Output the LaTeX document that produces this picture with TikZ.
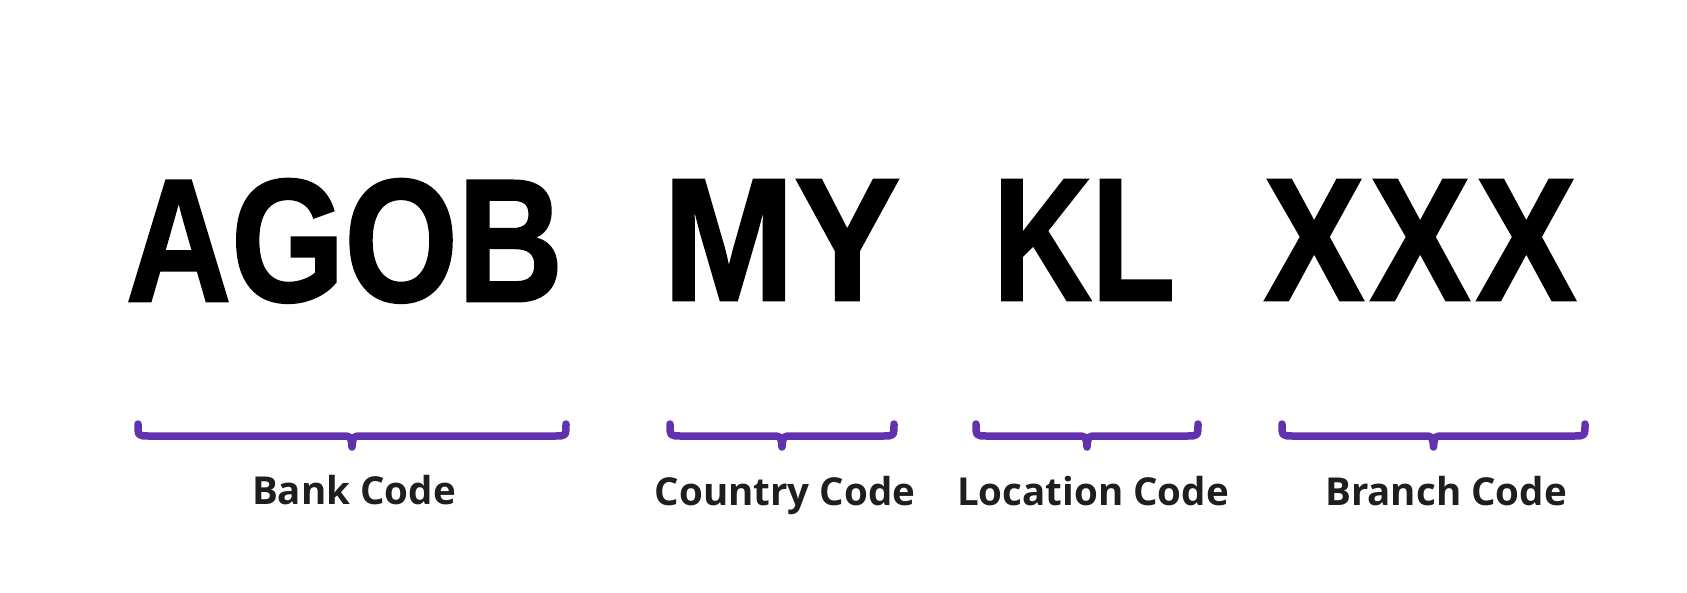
\documentclass[tikz,border=0pt]{standalone}
\usepackage{fontspec}
\usepackage{graphicx}
\setmainfont{Liberation Sans}
\newfontfamily\heavyfont[FakeBold=1.5]{Liberation Sans Bold}
\newfontfamily\labfont{Open Sans}
\definecolor{bracepurple}{HTML}{6232AE}
\definecolor{labelgray}{HTML}{1E1E1E}
\newcommand{\bigcode}[3]{\resizebox{#1pt}{#2pt}{\heavyfont #3}}
\begin{document}
\begin{tikzpicture}[x=1pt,y=-1pt,
  codetext/.style={inner sep=0pt,outer sep=0pt,anchor=north west},
  codelabel/.style={inner sep=0pt,anchor=base,font=\labfont\bfseries\fontsize{38.5}{42}\selectfont,text=labelgray},
  bracestyle/.style={draw=bracepurple,line width=7.5pt,line cap=round,line join=round}]
\useasboundingbox[fill=white] (0,0) rectangle (1687,592);
% big code letters
\node[codetext] (bank) at (126,179) {\bigcode{437}{122}{AGOB}};
\node[codetext] (country) at (663,180) {\bigcode{237}{120}{MY}};
\node[codetext] (location) at (993,180) {\bigcode{182}{120}{KL}};
\node[codetext] (branch) at (1264,180) {\bigcode{312}{120}{X\kern0.4pt X\kern0.4pt X}};
% braces
\foreach \xa/\xb in {138/566, 670/894, 976/1198, 1282/1585}{
  \pgfmathsetmacro{\xm}{(\xa+\xb)/2}
  \draw[bracestyle] (\xa,424) .. controls (\xa,436) .. (\xa+11,436)
     -- (\xm-10,436) .. controls (\xm-1,436) .. (\xm,447)
     .. controls (\xm+1,436) .. (\xm+10,436)
     -- (\xb-11,436) .. controls (\xb,436) .. (\xb,424);
}
% labels
\node[codelabel] (banklab) at (354,504.5) {Bank Code};
\node[codelabel] (countrylab) at (785,505) {Country Code};
\node[codelabel] (locationlab) at (1093,505) {Location Code};
\node[codelabel] (branchlab) at (1446,505) {Branch Code};
\end{tikzpicture}
\end{document}
